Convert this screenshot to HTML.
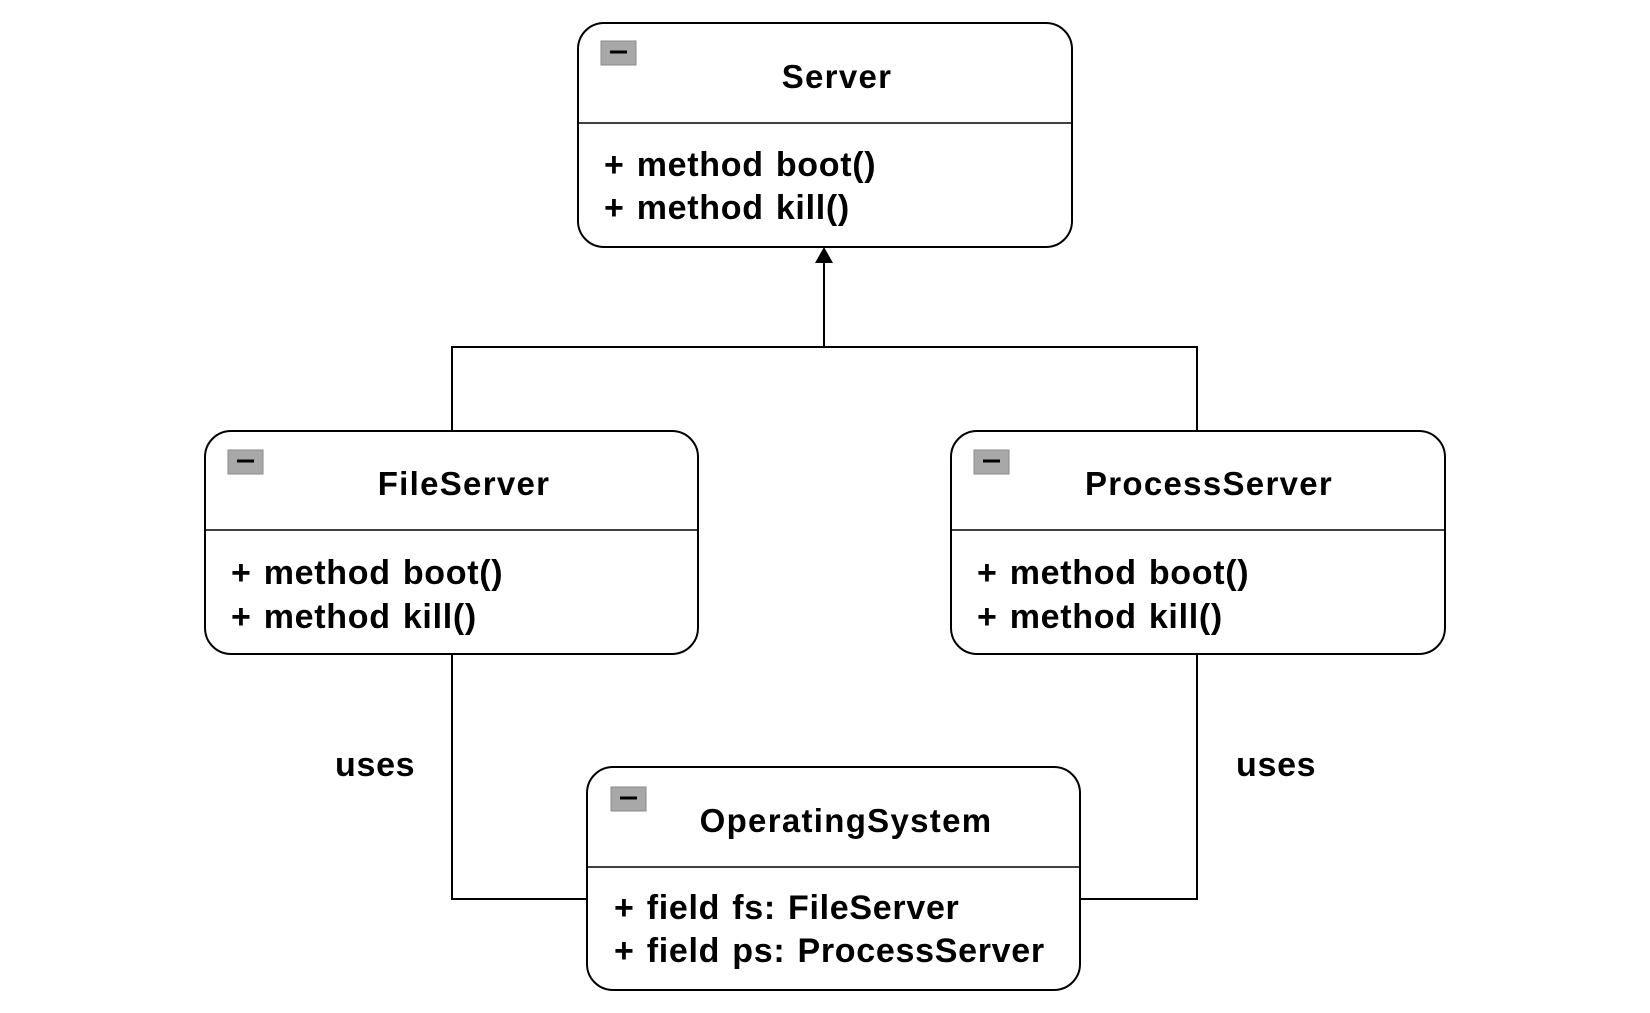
<!DOCTYPE html>
<html><head><meta charset="utf-8"><style>
html,body{margin:0;padding:0;background:#fff}
svg{display:block}
text{font-family:"Liberation Sans",Arial,sans-serif;font-weight:bold;fill:#000;letter-spacing:1.3px;word-spacing:3px}
.b text{letter-spacing:0.7px;word-spacing:2px}
</style></head><body>
<svg width="1650" height="1013" viewBox="0 0 1650 1013" xmlns="http://www.w3.org/2000/svg">
<g fill="none" stroke="#000" stroke-width="2">
<path d="M824 260 V347 M452 431 V347 H1197 V431"/>
<path d="M452 654 V899 H587"/>
<path d="M1197 654 V899 H1080"/>
</g>
<polygon points="824,247 815,263 833,263" fill="#000"/>
<g fill="#fff" stroke="#000" stroke-width="2">
<rect x="578" y="23" width="494" height="224" rx="26"/>
<rect x="205" y="431" width="493" height="223" rx="26"/>
<rect x="951" y="431" width="494" height="223" rx="26"/>
<rect x="587" y="767" width="493" height="223" rx="26"/>
</g>
<g stroke="#000" stroke-width="1.5">
<line x1="578" y1="123" x2="1072" y2="123"/>
<line x1="205" y1="530" x2="698" y2="530"/>
<line x1="951" y1="530" x2="1445" y2="530"/>
<line x1="587" y1="867" x2="1080" y2="867"/>
</g>
<g fill="#a8a8a8" stroke="#8a8a8a" stroke-width="1">
<rect x="601" y="41" width="35" height="24"/>
<rect x="228" y="450" width="35" height="24"/>
<rect x="974" y="450" width="35" height="24"/>
<rect x="611" y="787" width="35" height="24"/>
</g>
<g stroke="#000" stroke-width="3">
<line x1="610" y1="52" x2="627" y2="52"/>
<line x1="237" y1="461" x2="254" y2="461"/>
<line x1="983" y1="461" x2="1000" y2="461"/>
<line x1="620" y1="798" x2="637" y2="798"/>
</g>
<g font-size="33" text-anchor="middle">
<text x="837" y="88">Server</text>
<text x="464" y="495">FileServer</text>
<text x="1209" y="495">ProcessServer</text>
<text x="846" y="832">OperatingSystem</text>
</g>
<g font-size="34" class="b">
<text x="604" y="176">+ method boot()</text>
<text x="604" y="219">+ method kill()</text>
<text x="231" y="584">+ method boot()</text>
<text x="231" y="628">+ method kill()</text>
<text x="977" y="584">+ method boot()</text>
<text x="977" y="628">+ method kill()</text>
<text x="614" y="919">+ field fs: FileServer</text>
<text x="614" y="962">+ field ps: ProcessServer</text>
<text x="335" y="776">uses</text>
<text x="1236" y="776">uses</text>
</g>
</svg>
</body></html>
